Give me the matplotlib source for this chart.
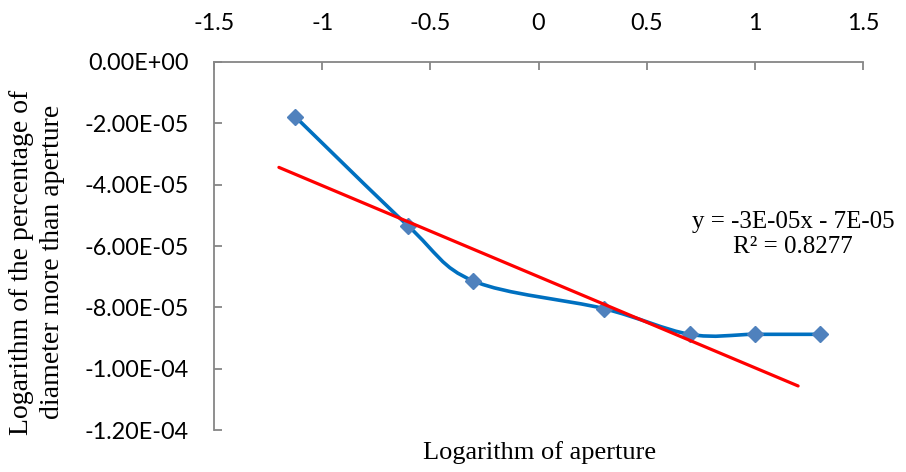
import numpy as np
import matplotlib
matplotlib.use("Agg")
import matplotlib.pyplot as plt
from matplotlib.path import Path
from matplotlib.patches import PathPatch
from matplotlib.ticker import FuncFormatter, MultipleLocator

# ---- data ----
log_aperture = [-1.125, -0.602, -0.301, 0.301, 0.699, 1.0, 1.301]
log_percent = [-1.78e-5, -5.35e-5, -7.14e-5, -8.04e-5, -8.88e-5, -8.88e-5, -8.88e-5]
trend_range = [-1.2, 1.2]
trend_slope = -2.97e-5
trend_intercept = -7.0e-5
equation_text = "y = -3E-05x - 7E-05"
r2_text = "R² = 0.8277"
x_label = "Logarithm of aperture"
y_label = "Logarithm of the percentage of\ndiameter more than aperture"

W, H = 906, 472
fig = plt.figure(figsize=(W / 100, H / 100), dpi=100)
ax = fig.add_axes([214 / W, 1 - 430 / H, (863 - 214) / W, (430 - 62) / H])
ax.set_xlim(-1.5, 1.5)
ax.set_ylim(-1.2e-4, 0)

grey = "#868686"
tick_font = ["Lato", "DejaVu Sans"]
serif = ["Liberation Serif", "DejaVu Serif"]

# smoothed line (Catmull-Rom -> cubic Bezier, like Excel "smoothed line")
x = np.array(log_aperture)
y = np.array(log_percent)
pts = np.column_stack([x, y])
n = len(pts)
verts = [pts[0]]
codes = [Path.MOVETO]
for i in range(n - 1):
    p0 = pts[max(i - 1, 0)]
    p1 = pts[i]
    p2 = pts[i + 1]
    p3 = pts[min(i + 2, n - 1)]
    c1 = p1 + (p2 - p0) / 6.0
    c2 = p2 - (p3 - p1) / 6.0
    verts += [c1, c2, p2]
    codes += [Path.CURVE4] * 3
path = Path(np.array(verts), codes)
ax.add_patch(PathPatch(path, facecolor="none", edgecolor="#0070C0", lw=2.6, zorder=3))
ax.plot(x, y, linestyle="none", marker="D", markersize=8.5, color="#4F81BD",
        markeredgecolor="#4F81BD", zorder=4, clip_on=False)

# linear trendline (as shown in the chart)
tx = np.array(trend_range)
ax.plot(tx, trend_slope * tx + trend_intercept, color="#FF0000", lw=2.3, zorder=5,
        solid_capstyle="round")

# axes styling
for side in ["bottom", "right"]:
    ax.spines[side].set_visible(False)
for side in ["top", "left"]:
    ax.spines[side].set_color(grey)
    ax.spines[side].set_linewidth(1.3)

ax.xaxis.set_ticks_position("top")
ax.xaxis.set_label_position("bottom")
ax.xaxis.set_major_locator(MultipleLocator(0.5))
ax.yaxis.set_major_locator(MultipleLocator(2e-5))
ax.xaxis.set_major_formatter(FuncFormatter(lambda v, p: f"{v:g}"))
ax.yaxis.set_major_formatter(FuncFormatter(lambda v, p: f"{0.0 if abs(v) < 1e-12 else v:.2E}"))
ax.tick_params(axis="x", direction="in", length=6, width=1.3, color=grey, pad=20,
               labelsize=16.8, labelcolor="black")
ax.tick_params(axis="y", direction="in", length=6, width=1.3, color=grey, pad=18,
               labelsize=16.8, labelcolor="black")
for lab in ax.get_xticklabels() + ax.get_yticklabels():
    lab.set_family(tick_font)

fig.text(540 / W, 1 - 453 / H, x_label, ha="center", va="center",
         fontsize=19, family=serif)
fig.text(37 / W, 1 - 262 / H, y_label, ha="center", va="center", rotation=90,
         fontsize=20, family=serif, linespacing=1.35)
fig.text(793 / W, 1 - 222 / H, equation_text, ha="center", va="center",
         fontsize=18, family=serif)
fig.text(793 / W, 1 - 247 / H, r2_text, ha="center", va="center",
         fontsize=18, family=serif)

fig.savefig("out.png", dpi=100)
